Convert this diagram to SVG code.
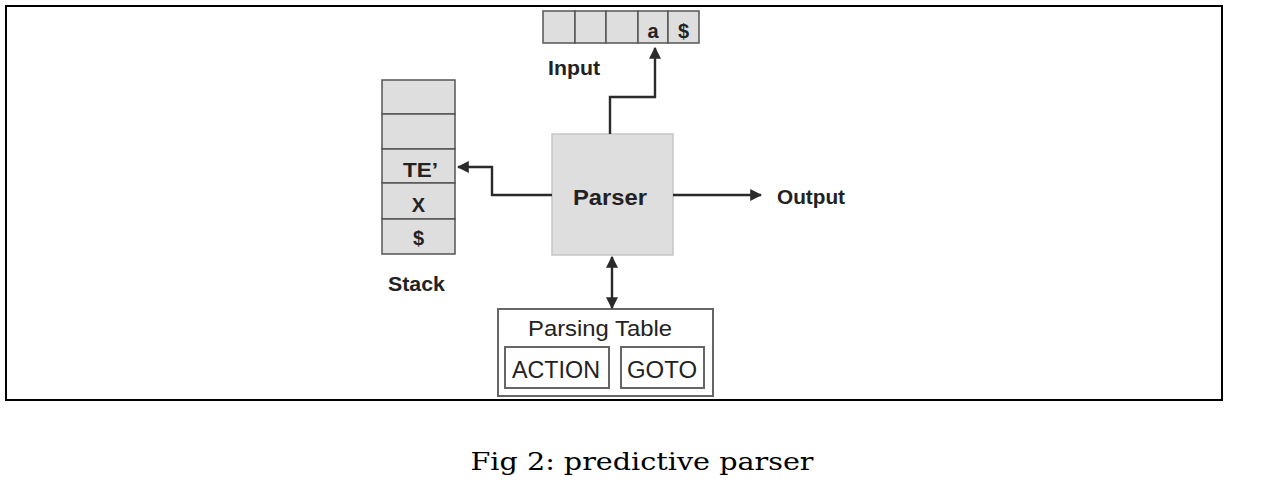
<svg xmlns="http://www.w3.org/2000/svg" width="1263" height="495" viewBox="0 0 1263 495">
<defs>
<style>
.cell{fill:#dedede;stroke:#555;stroke-width:1.5}
.pbox{fill:#dedede;stroke:#c6c6c6;stroke-width:1.5}
.tbox{fill:#fff;stroke:#666;stroke-width:2}
.b{font-family:"Liberation Sans",Arial,sans-serif;font-weight:bold;fill:#222}
.r{font-family:"Liberation Sans",Arial,sans-serif;fill:#222}
.conn{fill:none;stroke:#2a2a2a;stroke-width:2.4}
</style>
<marker id="ah" viewBox="0 0 10 10" refX="9" refY="5" markerWidth="5" markerHeight="5" orient="auto-start-reverse" markerUnits="strokeWidth">
<path d="M0,0 L10,5 L0,10 z" fill="#2a2a2a"/>
</marker>
</defs>
<rect width="1263" height="495" fill="#fff"/>
<rect x="6" y="6" width="1216" height="394" fill="none" stroke="#000" stroke-width="2"/>

<g id="input">
<rect class="cell" x="543" y="11" width="32" height="32"/>
<rect class="cell" x="575" y="11" width="31" height="32"/>
<rect class="cell" x="606" y="11" width="32" height="32"/>
<rect class="cell" x="638" y="11" width="30" height="32"/>
<rect class="cell" x="668" y="11" width="31" height="32"/>
<text class="b" x="653" y="38" font-size="20" text-anchor="middle">a</text>
<text class="b" x="683.5" y="38" font-size="20" text-anchor="middle">$</text>
<text class="b" x="548" y="75" font-size="20" textLength="52" lengthAdjust="spacingAndGlyphs">Input</text>
</g>

<g id="stack">
<rect class="cell" x="382" y="80" width="73" height="34"/>
<rect class="cell" x="382" y="114" width="73" height="35"/>
<rect class="cell" x="382" y="149" width="73" height="34"/>
<rect class="cell" x="382" y="183" width="73" height="36"/>
<rect class="cell" x="382" y="219" width="73" height="35"/>
<text class="b" x="403" y="177" font-size="20" textLength="35" lengthAdjust="spacingAndGlyphs">TE’</text>
<text class="b" x="418.5" y="212" font-size="20" text-anchor="middle">X</text>
<text class="b" x="418.5" y="245" font-size="20" text-anchor="middle">$</text>
<text class="b" x="388" y="291" font-size="20" textLength="57" lengthAdjust="spacingAndGlyphs">Stack</text>
</g>

<g id="parser">
<rect class="pbox" x="552" y="134" width="121" height="121"/>
<text class="b" x="573" y="205" font-size="22" textLength="74" lengthAdjust="spacingAndGlyphs">Parser</text>
</g>

<g id="output">
<text class="b" x="777" y="204" font-size="20" textLength="68" lengthAdjust="spacingAndGlyphs">Output</text>
</g>

<g id="parsing-table">
<rect class="tbox" x="498" y="309" width="215" height="87"/>
<text class="r" x="528" y="336" font-size="22" textLength="144" lengthAdjust="spacingAndGlyphs">Parsing Table</text>
<rect class="tbox" x="505" y="347" width="104" height="41"/>
<text class="r" x="512" y="378" font-size="23" textLength="88" lengthAdjust="spacingAndGlyphs">ACTION</text>
<rect class="tbox" x="621" y="347" width="83" height="41"/>
<text class="r" x="627" y="378" font-size="23" textLength="70" lengthAdjust="spacingAndGlyphs">GOTO</text>
</g>

<g id="connectors">
<path class="conn" d="M610,134 V97 H655 V48" marker-end="url(#ah)"/>
<path class="conn" d="M552,195 H492 V167 H458" marker-end="url(#ah)"/>
<path class="conn" d="M673,195 H761" marker-end="url(#ah)"/>
<path class="conn" d="M612,257 V308" marker-start="url(#ah)" marker-end="url(#ah)"/>
</g>

<text x="642" y="470" font-family="DejaVu Serif,serif" font-size="24" text-anchor="middle" textLength="343" lengthAdjust="spacingAndGlyphs" fill="#000">Fig 2: predictive parser</text>
</svg>
